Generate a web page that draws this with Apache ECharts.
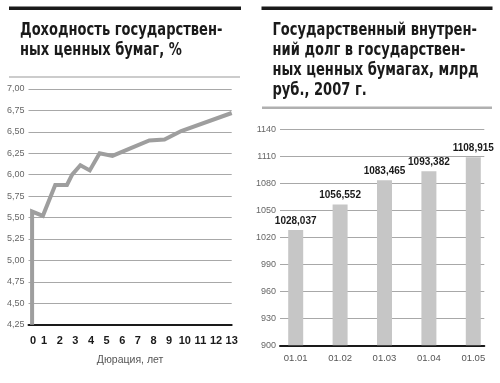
<!DOCTYPE html>
<html><head><meta charset="utf-8">
<script src="https://cdn.jsdelivr.net/npm/echarts@6/dist/echarts.min.js"></script>
<style>html,body{margin:0;padding:0;background:#fff}#c{width:500px;height:383px}</style>
</head><body><div id="c"></div>
<script>
// Left chart: yield curve (duration, years -> yield, %)
const leftTitle = 'Доходность государствен-\nных ценных бумаг, %';
const durationYears = [0.23, 0.23, 0.92, 1.71, 2.46, 2.79, 3.32, 3.92, 4.55, 5.37, 6.55, 7.73, 8.70, 9.77, 13.0];
const yieldPct      = [4.25, 5.57, 5.52, 5.88, 5.88, 6.00, 6.11, 6.05, 6.25, 6.22, 6.31, 6.40, 6.41, 6.51, 6.72];
const leftXName = 'Дюрация, лет';

// Right chart: domestic debt in government securities, bn rub, 2007
const rightTitle = 'Государственный внутрен-\nний долг в государствен-\nных ценных бумагах, млрд\nруб., 2007 г.';
const dates = ['01.01', '01.02', '01.03', '01.04', '01.05'];
const debt = [1028.037, 1056.552, 1083.465, 1093.382, 1108.915];

const NARROW = '"Liberation Sans Narrow", "DejaVu Sans Condensed", "Liberation Sans", sans-serif';
const SANS = '"Liberation Sans", Arial, sans-serif';
const comma = (v, d) => v.toFixed(d).replace('.', ',');

const titleStyle = {fontFamily: NARROW, fontWeight: 'bold', fontSize: 17.5, lineHeight: 20, fill: '#1a1a1a'};

const chart = echarts.init(document.getElementById('c'), null, {renderer: 'canvas'});
chart.setOption({
  animation: false,
  backgroundColor: '#fff',
  graphic: [
    {type: 'rect', shape: {x: 9, y: 6.5, width: 232, height: 3.5}, style: {fill: '#1a1a1a'}},
    {type: 'rect', shape: {x: 9, y: 76.5, width: 231, height: 1}, style: {fill: '#9a9a9a'}},
    {type: 'rect', shape: {x: 261.5, y: 6.5, width: 231, height: 3.5}, style: {fill: '#1a1a1a'}},
    {type: 'rect', shape: {x: 262, y: 106.5, width: 230, height: 2.5}, style: {fill: '#b0b0b0'}},
    {type: 'text', x: 20, y: 20, scaleX: 0.83, originX: 0,
     style: Object.assign({text: leftTitle}, titleStyle)},
    {type: 'text', x: 272.5, y: 20.5, scaleX: 0.83, originX: 0,
     style: Object.assign({text: rightTitle}, titleStyle)}
  ],
  grid: [
    {left: 28.5, right: 268.3, top: 89, bottom: 58.3},
    {left: 280, right: 15.7, top: 129.3, bottom: 37.7},
    {left: 273.5, right: 4.5, top: 129.3, bottom: 37.7}
  ],
  xAxis: [
    {gridIndex: 0, type: 'value', min: 0, max: 13, interval: 1,
     name: leftXName, nameLocation: 'middle', nameGap: 30,
     nameTextStyle: {fontFamily: SANS, fontSize: 10.5, color: '#555'},
     axisLine: {show: true, onZero: false, lineStyle: {color: '#1a1a1a', width: 2}},
     axisTick: {show: false}, splitLine: {show: false},
     axisLabel: {margin: 11, fontFamily: SANS, fontWeight: 'bold', fontSize: 11, color: '#1a1a1a',
       formatter: v => v === 0 ? '{z|0}' : String(v),
       rich: {z: {fontFamily: SANS, fontWeight: 'bold', fontSize: 11, color: '#1a1a1a', padding: [0, 0, 0, 9]}}}},
    {gridIndex: 1, type: 'value', min: 0, max: 1, show: true,
     axisLine: {show: true, onZero: false, lineStyle: {color: '#1a1a1a', width: 2}},
     axisTick: {show: false}, axisLabel: {show: false}, splitLine: {show: false}},
    {gridIndex: 2, type: 'category', data: dates, boundaryGap: true,
     axisLine: {show: false}, axisTick: {show: false}, splitLine: {show: false},
     axisLabel: {margin: 8, fontFamily: SANS, fontSize: 9.5, color: '#555'}}
  ],
  yAxis: [
    {gridIndex: 0, type: 'value', min: 4.25, max: 7, interval: 0.25,
     axisLine: {show: false}, axisTick: {show: false},
     axisLabel: {margin: 4, fontFamily: SANS, fontSize: 9, color: '#666', formatter: v => comma(v, 2)},
     splitLine: {lineStyle: {color: '#a8a8a8', width: 1.2}}},
    {gridIndex: 1, type: 'value', min: 900, max: 1140, interval: 30,
     axisLine: {show: false}, axisTick: {show: false},
     axisLabel: {margin: 4, fontFamily: SANS, fontSize: 9, color: '#666', formatter: v => String(v)},
     splitLine: {lineStyle: {color: '#a8a8a8', width: 1.2}}},
    {gridIndex: 2, type: 'value', min: 900, max: 1140, interval: 30, show: false}
  ],
  series: [
    {type: 'line', xAxisIndex: 0, yAxisIndex: 0,
     data: durationYears.map((d, i) => [d, yieldPct[i]]),
     showSymbol: false, symbol: 'none', clip: false,
     lineStyle: {color: '#9e9e9e', width: 4, join: 'miter'}, z: 3},
    {type: 'bar', xAxisIndex: 2, yAxisIndex: 2, data: debt, barWidth: 15,
     itemStyle: {color: '#c6c6c6'},
     label: {show: true, position: 'top', distance: 4, fontFamily: SANS, fontWeight: 'bold', fontSize: 10,
       color: '#1a1a1a', formatter: p => comma(p.value, 3)}}
  ]
});
</script></body></html>
